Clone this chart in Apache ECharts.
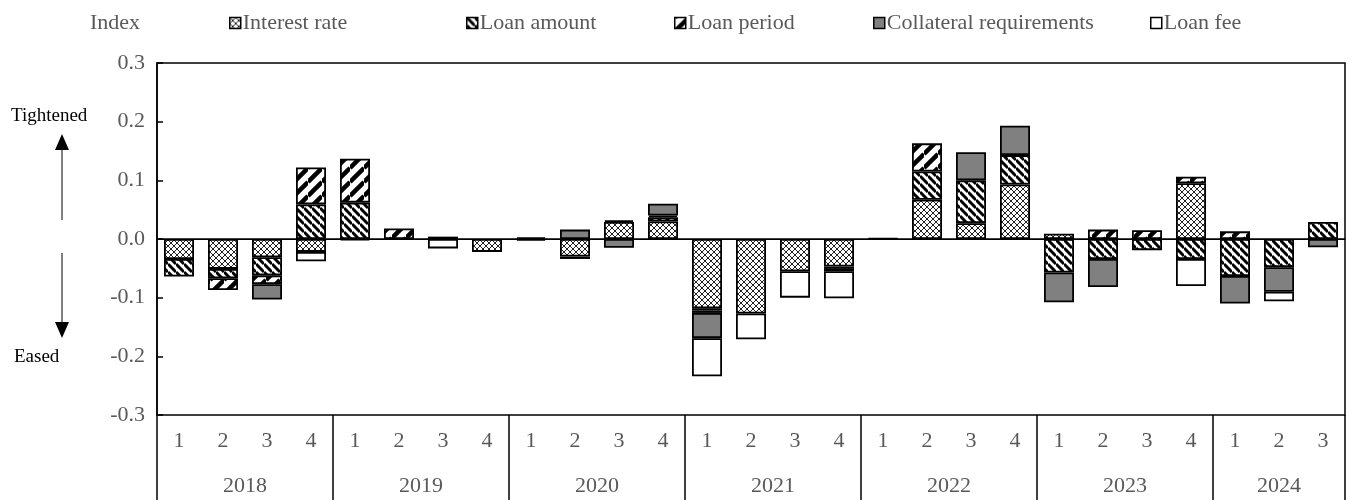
<!DOCTYPE html>
<html>
<head>
<meta charset="utf-8">
<script src="https://cdn.jsdelivr.net/npm/echarts@6/dist/echarts.min.js"></script>
<style>
  html, body { margin: 0; padding: 0; background: #fff; }
  #chart { width: 1357px; height: 500px; }
</style>
</head>
<body>
<div id="chart"></div>
<script>
// Lending-conditions index by component, quarterly 2018 Q1 – 2024 Q3
const years = ['2018', '2019', '2020', '2021', '2022', '2023', '2024'];
const quartersPerYear = [4, 4, 4, 4, 4, 4, 3];
const yTicks = [-0.3, -0.2, -0.1, 0.0, 0.1, 0.2, 0.3];

const interestRate = [-0.034, -0.051, -0.031, -0.022, -0.002, 0, 0, -0.022,
  -0.003, -0.030, 0.029, 0.030, -0.118, -0.127, -0.055, -0.047,
  0.001, 0.067, 0.027, 0.093, 0.009, 0, 0, 0.095, 0, 0, 0];
const loanAmount = [-0.030, -0.016, -0.031, 0.059, 0.062, 0, 0.004, 0,
  0.003, -0.004, 0.003, 0.007, -0.004, 0, 0, -0.004,
  0, 0.048, 0.073, 0.050, -0.057, -0.034, -0.019, -0.034, -0.063, -0.048, 0.029];
const loanPeriod = [0, -0.020, -0.015, 0.063, 0.075, 0.018, 0, 0,
  0, 0, 0, 0.003, -0.004, 0, 0, -0.004,
  0, 0.048, 0, 0, 0, 0.016, 0.015, 0.011, 0.013, 0, 0];
const collateral = [0, 0, -0.026, 0, 0, 0, 0, 0,
  0, 0.016, -0.015, 0.020, -0.043, 0, 0, 0,
  0, 0, 0.048, 0.050, -0.051, -0.048, 0, 0, -0.047, -0.042, -0.014];
const loanFee = [0, 0, 0, -0.016, 0, 0, -0.016, 0,
  0, 0, 0, 0, -0.065, -0.044, -0.045, -0.046,
  0, 0, 0, 0, 0, 0, 0, -0.046, 0, -0.016, 0];

const seriesNames = ['Interest rate', 'Loan amount', 'Loan period', 'Collateral requirements', 'Loan fee'];

// category labels: quarter numbers, and where each year starts / is centred
const quarterLabels = [];
const yearStarts = [];
const yearCenters = [];
let pos = 0;
quartersPerYear.forEach(n => {
  yearStarts.push(pos);
  yearCenters.push(pos + n / 2);
  for (let q = 1; q <= n; q++) quarterLabels.push(String(q));
  pos += n;
});
const totalQuarters = pos;
yearStarts.push(totalQuarters);

const FONT = "'Liberation Serif', 'Times New Roman', serif";
const GREY = '#595959';
const FS = 22;

// hatch fills drawn on small tiles
function tile(size, draw) {
  const c = document.createElement('canvas');
  c.width = size; c.height = size;
  const ctx = c.getContext('2d');
  ctx.fillStyle = '#fff';
  ctx.fillRect(0, 0, size, size);
  ctx.strokeStyle = '#000';
  draw(ctx, size);
  return { image: c, repeat: 'repeat' };
}
const crossFill = tile(6, (ctx, s) => {
  ctx.lineWidth = 1;
  ctx.strokeStyle = '#222';
  for (const k of [-s, 0, s]) {
    ctx.beginPath(); ctx.moveTo(0, k); ctx.lineTo(s, s + k); ctx.stroke();
    ctx.beginPath(); ctx.moveTo(0, s + k); ctx.lineTo(s, k); ctx.stroke();
  }
});
const backFill = tile(8, (ctx, s) => {
  ctx.lineWidth = 3;
  for (const k of [-s, 0, s]) {
    ctx.beginPath(); ctx.moveTo(0, k); ctx.lineTo(s, s + k); ctx.stroke();
  }
});
const fwdFill = tile(14, (ctx, s) => {
  ctx.lineWidth = 4.5;
  for (const k of [0, s, 2 * s]) {
    ctx.beginPath(); ctx.moveTo(0, k); ctx.lineTo(s, k - s); ctx.stroke();
  }
});
const fills = [crossFill, backFill, fwdFill, '#808080', '#ffffff'];
const values = [interestRate, loanAmount, loanPeriod, collateral, loanFee];

const series = seriesNames.map((name, i) => ({
  name,
  type: 'bar',
  stack: 'total',
  barWidth: 30,
  xAxisIndex: 0,
  data: values[i].map(v => (v === 0 ? '-' : v)),
  itemStyle: { color: fills[i], borderColor: '#000', borderWidth: 1.8 },
  emphasis: { disabled: true }
}));
// zero reference line
series[0].markLine = {
  silent: true,
  symbol: 'none',
  label: { show: false },
  lineStyle: { color: '#000', width: 1, type: 'solid' },
  data: [{ yAxis: 0 }]
};

const legendLeft = [229, 466, 674, 873, 1150];
const legends = seriesNames.map((name, i) => ({
  data: [name],
  left: legendLeft[i],
  top: 12,
  padding: 0,
  itemWidth: 11,
  itemHeight: 11,
  itemGap: 0,
  icon: 'rect',
  itemStyle: { borderColor: '#000', borderWidth: 1.5 },
  textStyle: { fontFamily: FONT, fontSize: FS, color: GREY, padding: [0, 0, 0, -3] },
  selectedMode: false
}));

const chart = echarts.init(document.getElementById('chart'), null, { renderer: 'canvas' });
chart.setOption({
  animation: false,
  backgroundColor: '#fff',
  legend: legends,
  grid: {
    left: 157, right: 12, top: 63, bottom: 85,
    show: true, borderColor: '#000', borderWidth: 1.5, backgroundColor: 'transparent'
  },
  xAxis: [
    {
      type: 'category',
      data: quarterLabels,
      position: 'bottom',
      axisLine: { show: true, lineStyle: { color: '#000', width: 1.5 } },
      axisTick: { show: false },
      axisLabel: { fontFamily: FONT, fontSize: FS, color: GREY, margin: 15 },
      splitLine: { show: false }
    },
    {
      type: 'value',
      min: 0,
      max: totalQuarters,
      position: 'bottom',
      axisLine: { show: false },
      splitLine: { show: false },
      axisTick: {
        show: true, inside: false, length: 86,
        customValues: yearStarts,
        lineStyle: { color: '#000', width: 1.5 }
      },
      axisLabel: {
        fontFamily: FONT, fontSize: FS, color: GREY, margin: 60,
        customValues: yearCenters,
        formatter: v => years[yearCenters.indexOf(v)] || ''
      }
    }
  ],
  yAxis: {
    type: 'value',
    min: yTicks[0],
    max: yTicks[yTicks.length - 1],
    interval: 0.1,
    axisLine: { show: true, lineStyle: { color: '#000', width: 1.5 } },
    axisTick: { show: true, inside: true, length: 6, lineStyle: { color: '#000', width: 1.5 } },
    axisLabel: { fontFamily: FONT, fontSize: FS, color: GREY, margin: 12, formatter: v => v.toFixed(1) },
    splitLine: { show: false }
  },
  graphic: [
    { type: 'text', left: 90, top: 12, style: { text: 'Index', font: FS + 'px ' + FONT, fill: GREY } },
    { type: 'text', left: 11, top: 107, style: { text: 'Tightened', font: '19px ' + FONT, fill: '#000' } },
    { type: 'line', shape: { x1: 62, y1: 148, x2: 62, y2: 220 }, style: { stroke: '#000', lineWidth: 1 } },
    { type: 'polygon', shape: { points: [[62, 134], [55, 150], [69, 150]] }, style: { fill: '#000' } },
    { type: 'line', shape: { x1: 62, y1: 253, x2: 62, y2: 325 }, style: { stroke: '#000', lineWidth: 1 } },
    { type: 'polygon', shape: { points: [[62, 338], [55, 322], [69, 322]] }, style: { fill: '#000' } },
    { type: 'text', left: 14, top: 348, style: { text: 'Eased', font: '19px ' + FONT, fill: '#000' } }
  ],
  series
});
</script>
</body>
</html>
